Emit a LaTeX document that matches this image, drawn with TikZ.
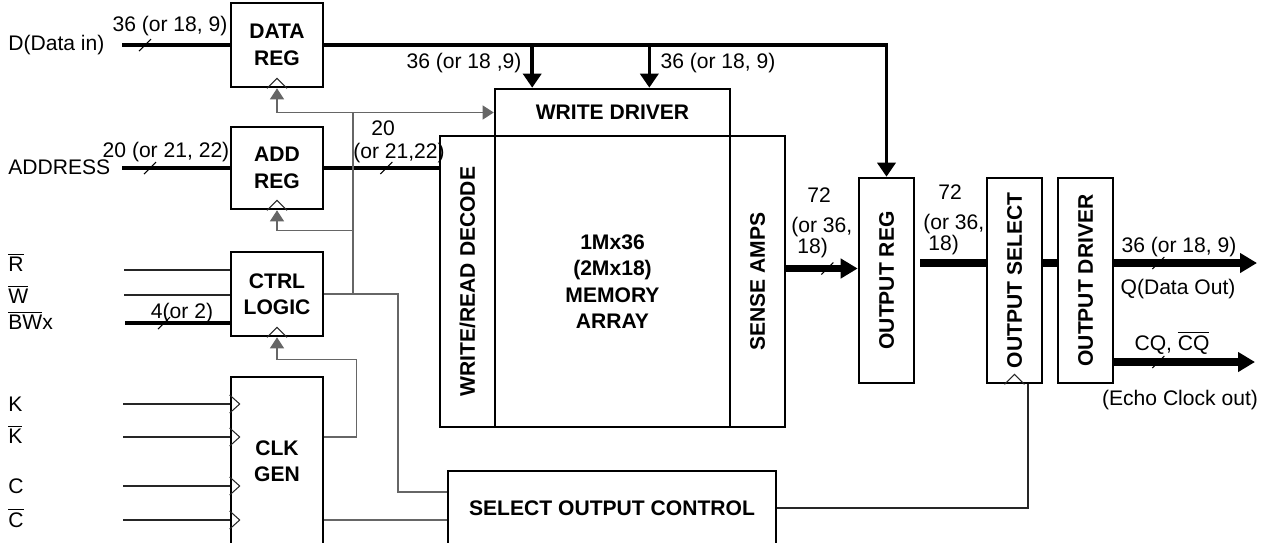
\documentclass[tikz,border=0pt]{standalone}
\usepackage{fontspec}
\setmainfont{Liberation Sans}
\usepackage{graphicx}
\usetikzlibrary{arrows.meta,positioning,calc}

\newcommand{\ovl}[1]{$\overline{\mbox{#1}}$}
\newcommand{\clknotch}[1]{\draw[sig] ($(#1)+(-10,0)$) -- ++(10,-10) -- ++(10,10);}
\newcommand{\clkin}[1]{\draw[sig] ($(#1)+(0,-9)$) -- ++(10,9) -- ++(-10,9);}
\newcommand{\bustick}[2]{\draw[sig,black] ($(#1)+(#2,0)+(-6,6)$) -- ++(12,-12);}

\begin{document}
\begin{tikzpicture}[
  x=0.02cm, y=-0.02cm,
  every node/.style={font=\fontsize{12}{14}\selectfont,inner sep=0pt},
  blk/.style={draw,line width=1.5pt,align=center,font=\fontsize{12}{15}\selectfont\bfseries},
  lbl/.style={anchor=base},
  txtw/.style={anchor=base west},
  bus/.style={line width=2pt},
  wbus/.style={line width=4.5pt},
  sig/.style={line width=0.6pt,black!85},
  clk/.style={line width=0.6pt,black!60},
  arr/.style={-{Triangle[length=2.2mm,width=2.8mm]}},
  barr/.style={-{Triangle[length=2.8mm,width=3.6mm]}},
  warr/.style={-{Triangle[length=3.4mm,width=3.8mm]}},
]
\useasboundingbox (0,0) rectangle (1268,542);

%% Registers and control
\node[blk,minimum width=1.84cm,minimum height=1.68cm] (dreg) at (277,45)  {DATA\\REG};
\node[blk,minimum width=1.84cm,minimum height=1.64cm] (areg) at (277,168) {ADD\\REG};
\node[blk,minimum width=1.84cm,minimum height=1.68cm] (ctrl) at (277,294) {CTRL\\LOGIC};
\node[blk,minimum width=1.84cm,minimum height=3.36cm] (clkg) at (277,461) {CLK\\GEN};

%% Memory core
\node[blk,minimum width=4.70cm,minimum height=0.94cm] (wdrv) at (612.5,112.5) {WRITE DRIVER};
\node[blk,minimum width=1.10cm,minimum height=5.82cm] (dec)  at (467.5,281.5) {\rotatebox{90}{WRITE/READ DECODE}};
\node[blk,minimum width=4.70cm,minimum height=5.82cm] (mem)  at (612.5,281.5) {1Mx36\\(2Mx18)\\MEMORY\\ARRAY};
\node[blk,minimum width=1.10cm,minimum height=5.82cm] (amps) at (757.5,281.5) {\rotatebox{90}{SENSE AMPS}};

%% Output path
\node[blk,minimum width=1.10cm,minimum height=4.10cm] (oreg) at (886.5,280.5)  {\rotatebox{90}{OUTPUT REG}};
\node[blk,minimum width=1.10cm,minimum height=4.10cm] (osel) at (1014.5,280.5) {\rotatebox{90}{OUTPUT SELECT}};
\node[blk,minimum width=1.10cm,minimum height=4.10cm] (odrv) at (1085.5,280.5) {\rotatebox{90}{OUTPUT DRIVER}};
\node[blk,minimum width=6.56cm,minimum height=1.48cm] (soc)  at (612,508)      {SELECT OUTPUT CONTROL};

%% Input pins
\node[txtw] (tD)    at (8,50)  {D(Data in)};
\node[txtw] (tAddr) at (8,174) {ADDRESS};
\node[txtw] (tR)    at (8,271) {\ovl{R}};
\node[txtw] (tW)    at (8,303) {\ovl{W}};
\node[txtw] (tBW)   at (8,329) {\ovl{BW}x};
\node[txtw] (tK)    at (8,411) {K};
\node[txtw] (tKb)   at (8,443) {\ovl{K}};
\node[txtw] (tC)    at (8,493) {C};
\node[txtw] (tCb)   at (8,527) {\ovl{C}};

\coordinate (inD)  at (122,45);
\coordinate (inA)  at (122,168);
\coordinate (inR)  at (124,270);
\coordinate (inW)  at (124,295);
\coordinate (inBW) at (125,323);

\draw[bus] (inD) -- (inD -| dreg.west);
\draw[bus] (inA) -- (areg.west);
\draw[sig] (inR) -- (inR -| ctrl.west);
\draw[sig] (inW) -- (inW -| ctrl.west);
\draw[bus] (inBW) -- (inBW -| ctrl.west);
\foreach \n/\y in {K/404,Kb/437,C/486,Cb/520} {
  \coordinate (in\n) at (123,\y);
  \coordinate (ck\n) at (in\n -| clkg.west);
  \draw[sig] (in\n) -- (ck\n);
  \clkin{ck\n}
}

%% Bus widths
\node[lbl] (lDin)  at (170,31)  {36 (or 18, 9)};
\node[lbl] (lAddr) at (166,157) {20 (or 21, 22)};
\node[lbl] (lDec1) at (383,135) {20};
\node[lbl] (lDec2) at (399,158) {(or 21,22)};
\node[lbl] (lBW)   at (182,318) {4(or 2)};
\node[lbl] (lWdA)  at (464,68)  {36 (or 18 ,9)};
\node[lbl] (lWdB)  at (718,68)  {36 (or 18, 9)};
\node[txtw] (lSa1) at (807,202) {72};
\node[txtw] (lSa2) at (791,232) {(or 36,};
\node[txtw] (lSa3) at (797,253) {18)};
\node[txtw] (lOr1) at (938,199) {72};
\node[txtw] (lOr2) at (923,229) {(or 36,};
\node[txtw] (lOr3) at (928,250) {18)};
\node[lbl] (lQ)    at (1179,252) {36 (or 18, 9)};
\node[lbl] (tQ)    at (1178,294) {Q(Data Out)};
\node[lbl] (tCQ)   at (1172,350) {CQ, \ovl{CQ}};
\node[lbl] (tEcho) at (1180,405) {(Echo Clock out)};

%% Data bus
\coordinate (wdA) at ($(wdrv.north west)!0.162!(wdrv.north east)$);
\coordinate (wdB) at ($(wdrv.north west)!0.655!(wdrv.north east)$);
\draw[bus,barr] (dreg.east) -| (oreg.north);
\draw[bus,barr] (dreg.east -| wdA) -- (wdA);
\draw[bus,barr] (dreg.east -| wdB) -- (wdB);

%% Address bus
\draw[bus] (areg.east) -- (areg.east -| dec.west);

%% Read path
\coordinate (saOut) at ($(amps.east)+(0,-13)$);
\draw[wbus,warr] (saOut) -- (saOut -| oreg.west);
\coordinate (qy) at ($(oreg.east)+(5,-17.5)$);
\draw[wbus] (qy) -- (qy -| osel.west);
\draw[wbus] (qy -| osel.east) -- (qy -| odrv.west);
\coordinate (qEnd)  at (1257,263);
\coordinate (cqEnd) at (1255,362);
\coordinate (qSt)  at (qEnd -| odrv.east);
\coordinate (cqSt) at (cqEnd -| odrv.east);
\draw[wbus,warr] (qSt) -- (qEnd);
\draw[wbus,warr] (cqSt) -- (cqEnd);

%% Ticks
\bustick{inD}{23}
\bustick{inA}{28}
\bustick{areg.east}{62}
\bustick{inBW}{39}
\bustick{saOut}{41}
\bustick{qSt}{44}
\bustick{cqSt}{44}

%% Clock distribution
\coordinate (cx)  at (353,0);
\coordinate (cx2) at (398,0);
\coordinate (socIn) at ($(soc.west)+(0,-16)$);
\coordinate (aclk)  at ($(areg.south)+(0,20)$);
\coordinate (cclk)  at ($(ctrl.south)+(0,22)$);
\draw[clk] (ctrl.east) -- (ctrl.east -| cx2) -- (cx2 |- socIn) -- (socIn);
\draw[clk] (ctrl.east -| cx) -- (wdrv.west -| cx);
\draw[clk,arr] (dreg.south |- wdrv.west) -- (wdrv.west);
\draw[clk,arr] (dreg.south |- wdrv.west) -- (dreg.south);
\draw[clk,arr] (cx |- aclk) -- (aclk) -- (areg.south);
\draw[clk,arr] (ckKb -| clkg.east) -- ++(32,0) |- (cclk) -- (ctrl.south);
\draw[clk] (ckCb -| clkg.east) -- (ckCb -| soc.west);
\draw[sig] (soc.east) -| ($(osel.south)+(13.5,0)$);

\clknotch{dreg.south}
\clknotch{areg.south}
\clknotch{ctrl.south}
\clknotch{osel.south}

\end{tikzpicture}
\end{document}
